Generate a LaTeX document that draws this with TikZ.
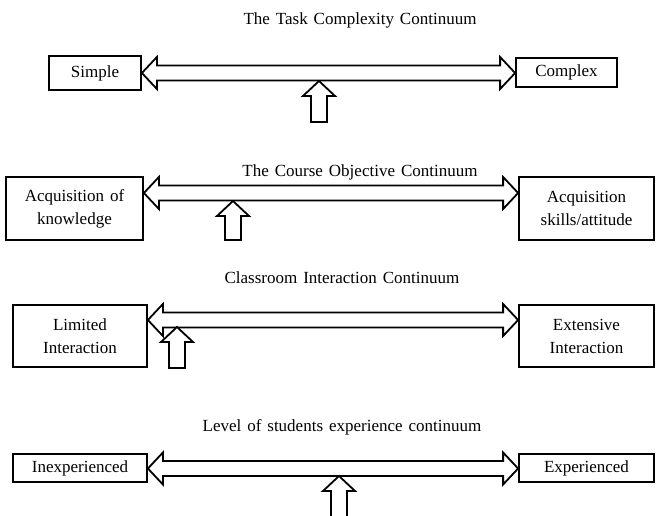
\documentclass[tikz,border=0pt]{standalone}
\usepackage{fontspec}
\setmainfont[WordSpace=1.4]{Liberation Serif}
\usetikzlibrary{calc}
\newcommand\dblarrow[3]{%
  \path (#1.east |- 0,#3) coordinate (#1-tip) (#2.west |- 0,#3) coordinate (#2-tip);
  \draw[shp] (#1-tip) -- ++(15,-16) -- ++(0,8.5) -- ($(#2-tip)+(-15,-7.5)$) -- ++(0,-8.5)
    -- (#2-tip) -- ++(-15,16) -- ++(0,-8.5) -- ($(#1-tip)+(15,7.5)$) -- ++(0,8.5) -- cycle;}
\newcommand\uparr[3]{%
  \draw[shp] (#1,#2) -- (#1+16,#2+15) -- (#1+8,#2+15) -- (#1+8,#3) -- (#1-8,#3)
    -- (#1-8,#2+15) -- (#1-16,#2+15) -- cycle;}
\begin{document}
\begin{tikzpicture}[x=1pt,y=-1pt,
  box/.style={draw,line width=1.8pt,align=center,inner sep=0pt,
    font=\fontsize{17}{23}\selectfont},
  ttl/.style={font=\fontsize{17}{23}\selectfont,inner sep=0pt},
  shp/.style={draw,line width=1.8pt,line join=miter,fill=white}]
\useasboundingbox (0,0) rectangle (656,515);
% titles
\node[ttl] (t1) at (360,20) {The Task Complexity Continuum};
\node[ttl] (t2) at (360,172) {The Course Objective Continuum};
\node[ttl] (t3) at (342,278) {Classroom Interaction Continuum};
\node[ttl] (t4) at (342,427) {Level of students experience continuum};
% boxes
\node[box,minimum width=92,minimum height=34] (simple) at (95,73) {Simple};
\node[box,minimum width=101,minimum height=29] (complex) at (566.5,72.5) {Complex};
\node[box,minimum width=137,minimum height=63] (know) at (74.5,208.5) {Acquisition of\\knowledge};
\node[box,minimum width=135,minimum height=63] (skills) at (586.5,208.5) {Acquisition\\skills/attitude};
\node[box,minimum width=134,minimum height=62] (limited) at (80,336) {Limited\\Interaction};
\node[box,minimum width=135,minimum height=62] (extensive) at (586.5,336) {Extensive\\Interaction};
\node[box,minimum width=134,minimum height=28] (inexp) at (80,468) {Inexperienced};
\node[box,minimum width=135,minimum height=28] (exp) at (586.5,468) {Experienced};
% double arrows
\dblarrow{simple}{complex}{73}
\dblarrow{know}{skills}{193}
\dblarrow{limited}{extensive}{320}
\dblarrow{inexp}{exp}{468.5}
% up arrows
\uparr{319}{81}{122}
\uparr{233}{201}{240}
\uparr{177}{327}{368}
\uparr{339}{476}{522}
\end{tikzpicture}
\end{document}
